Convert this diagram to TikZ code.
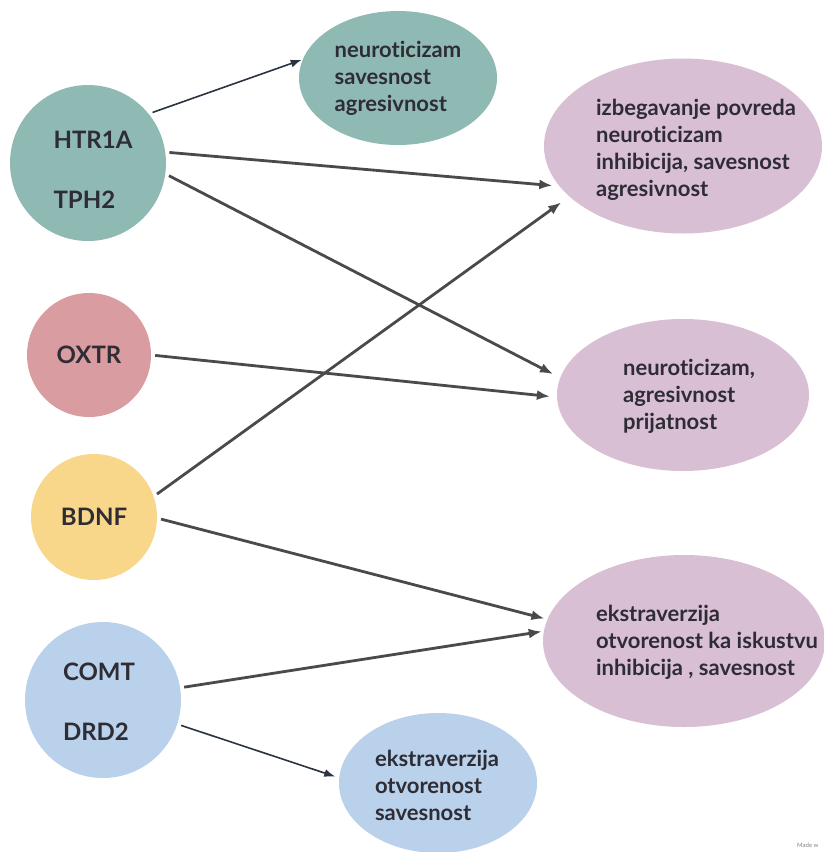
\documentclass[tikz,border=0pt]{standalone}
\usepackage{fontspec}
\setmainfont{Lato}[Ligatures={NoCommon,NoRare}]
\usepackage{tikz}
\usetikzlibrary{calc}
\usetikzlibrary{arrows.meta, positioning, shapes.geometric}
\definecolor{TEAL}{HTML}{8FBAB3}
\definecolor{ROSE}{HTML}{D99CA0}
\definecolor{SUN}{HTML}{F8D78B}
\definecolor{SKY}{HTML}{B9D1EB}
\definecolor{MAUVE}{HTML}{D8BFD4}
\definecolor{INK}{HTML}{2E2C34}
\definecolor{WIRE}{HTML}{4A4A4C}
\definecolor{NAVY}{HTML}{2A3342}
\tikzset{
  GENE/.style={% Circles for the genes
      circle, inner sep=0pt,
      minimum size=#1,
      align=left,
      text=INK,
      font=\bfseries\fontsize{24}{29}\selectfont,
  },
  TRAIT/.style n args={2}{% Ellipses for the traits, text goes on top
      ellipse, inner sep=0pt,
      minimum width=#1,
      minimum height=#2,
  },
  TXT/.style={% Text inside the trait ellipses
      align=left,
      text=INK,
      font=\bfseries\fontsize{22}{27}\selectfont,
  },
  LINK/.style={% Thick grey arrows
      line width=2.8pt, draw=WIRE,
      -{Latex[length=13pt,width=10pt]},
      shorten <=4pt,
  },
  THIN/.style={% Thin dark arrows
      line width=1.6pt, draw=NAVY,
      -{Latex[length=11pt,width=8pt]},
      shorten <=4pt,
  }
}

\begin{document}
\begin{tikzpicture}[x=1pt, y=-1pt]
    \useasboundingbox (0,0) rectangle (824,852);
    % genes
    \node[GENE=156pt, fill=TEAL] (htr) at (88,163) {};
    \node[GENE=0pt] at ($(htr)+(5,7)$) {HTR1A\\[31pt]TPH2};
    \node[GENE=124pt, fill=ROSE] (oxtr) at (89,355) {OXTR};
    \node[GENE=126pt, fill=SUN] (bdnf) at (94,517) {BDNF};
    \node[GENE=156pt, fill=SKY] (comt) at (103,700) {};
    \node[GENE=0pt] at ($(comt)+(-4,2)$) {COMT\\[31pt]DRD2};
    % traits
    \node[TRAIT={198pt}{134pt}, fill=TEAL] (neuro) at (398,78) {};
    \node[TXT] at (neuro) {neuroticizam\\savesnost\\agresivnost};
    \node[TRAIT={278pt}{175pt}, fill=MAUVE] (avoid) at (683,146) {};
    \node[TXT] at ($(avoid)+(13,4)$) {izbegavanje povreda\\neuroticizam\\inhibicija, savesnost\\agresivnost};
    \node[TRAIT={252pt}{152pt}, fill=MAUVE] (agree) at (683,395) {};
    \node[TXT] at ($(agree)+(6,1)$) {neuroticizam,\\agresivnost\\prijatnost};
    \node[TRAIT={282pt}{172pt}, fill=MAUVE] (extra) at (684,641) {};
    \node[TXT] at ($(extra)+(23,1)$) {ekstraverzija\\otvorenost ka iskustvu\\inhibicija , savesnost};
    \node[TRAIT={198pt}{140pt}, fill=SKY] (open) at (438,783) {};
    \node[TXT] at ($(open)+(-1,2)$) {ekstraverzija\\otvorenost\\savesnost};
    % connectors
    \draw[THIN, shorten >=1pt] (htr.39) -- (neuro.169);
    \foreach \from/\to/\gap in {htr.8/avoid.198/7, htr.-8/agree.172/8, oxtr.0/agree.181/7,
        bdnf.19/avoid.204/10, bdnf.-1/extra.171/3, comt.9/extra.176/2}
        \draw[LINK, shorten >=\gap pt] (\from) -- (\to);
    \draw[THIN, shorten >=4pt] (comt.-18) -- (open.177);
    \node[anchor=west, font=\fontsize{6}{7}\selectfont, text=gray, inner sep=0pt] (made) at (797,845) {Made w};
\end{tikzpicture}
\end{document}
